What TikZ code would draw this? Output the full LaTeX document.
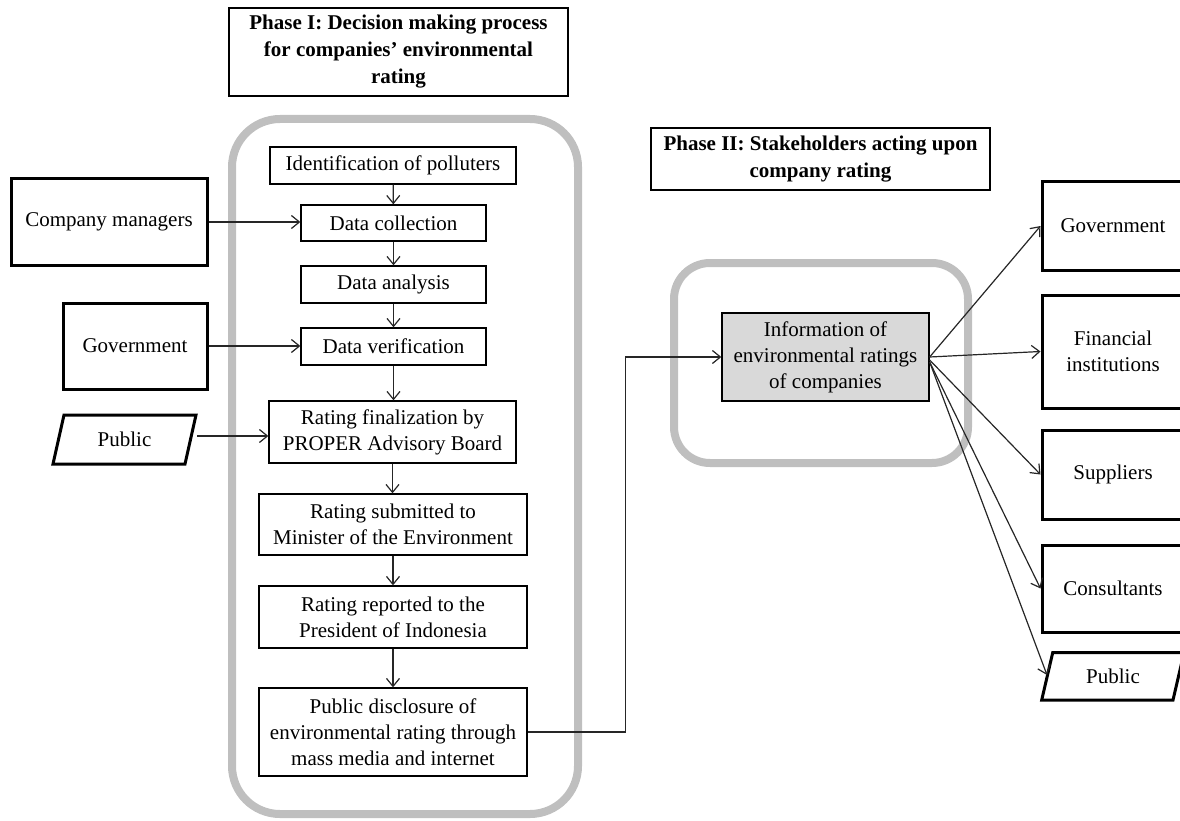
\documentclass[tikz,border=0pt]{standalone}
\usepackage{fontspec}
\setmainfont{Liberation Serif}
\usetikzlibrary{arrows.meta}
\begin{document}
\begin{tikzpicture}[x=1pt,y=-1pt,
  txt/.style={font=\fontsize{21}{26}\selectfont, align=center, inner sep=0pt},
  proc/.style={txt, draw=black, line width=1.3pt, rectangle},
  actor/.style={txt, draw=black, line width=3pt, rectangle},
  phase/.style={txt, draw=black, line width=1.3pt, font=\fontsize{21}{27}\selectfont\bfseries},
  group/.style={draw=gray!50, line width=8pt, rounded corners=48pt},
  para/.style={draw=black, line width=3pt, line join=miter},
  arr/.style={draw=black!85, line width=1.2pt, -{Straight Barb[length=8pt,width=13pt,line width=1.2pt]}},
]
\useasboundingbox (0,0) rectangle (1180,821);

% containers
\draw[group] (232,119) rectangle (578,814);
\draw[group, rounded corners=36pt] (674,263) rectangle (968,463);

% phase headers
\node[phase, minimum width=339pt, minimum height=88pt] (ph1) at (398.5,52) {Phase I: Decision making process\\for companies' environmental\\rating};
\node[phase, minimum width=339pt, minimum height=62pt] (ph2) at (820.5,159) {Phase II: Stakeholders acting upon\\company rating};

% phase I process
\node[proc, minimum width=246pt, minimum height=37pt] (id) at (393,165.5) {Identification of polluters};
\node[proc, minimum width=185pt, minimum height=36pt] (dc) at (393.5,223) {Data collection};
\node[proc, minimum width=185pt, minimum height=37pt] (da) at (393.5,284.5) {Data analysis};
\node[proc, minimum width=185pt, minimum height=37pt] (dv) at (393.5,346.5) {Data verification};
\node[proc, minimum width=247pt, minimum height=62pt] (rf) at (392.5,432) {Rating finalization by\\PROPER Advisory Board};
\node[proc, minimum width=268pt, minimum height=61pt] (rs) at (393,524.5) {Rating submitted to\\Minister of the Environment};
\node[proc, minimum width=268pt, minimum height=62pt] (rr) at (393,617) {Rating reported to the\\President of Indonesia};
\node[proc, minimum width=268pt, minimum height=88pt] (pd) at (393,732) {Public disclosure of\\environmental rating through\\mass media and internet};

% left actors
\node[actor, minimum width=196pt, minimum height=86pt] (cm) at (109,222) {Company managers};
\node[actor, minimum width=144pt, minimum height=86pt] (gL) at (135,346) {Government};
\draw[para] (64,415) -- (196,415) -- (185,464) -- (53,464) -- cycle;
\node[txt] (pL) at (124.5,439.5) {Public};
\coordinate (pLout) at (197,436);

% phase II
\node[proc, fill=gray!30, minimum width=207pt, minimum height=88pt] (info) at (825.5,357) {Information of\\environmental ratings\\of companies};

% right stakeholders
\node[actor, minimum width=142pt, minimum height=88pt] (gR) at (1113,226) {Government};
\node[actor, minimum width=142pt, minimum height=113pt] (fR) at (1113,351.5) {Financial\\institutions};
\node[actor, minimum width=142pt, minimum height=89pt] (sR) at (1113,474.5) {Suppliers};
\node[actor, minimum width=142pt, minimum height=87pt] (cR) at (1113,588.5) {Consultants};
\draw[para] (1052.7,652.7) -- (1184,652.7) -- (1173,700) -- (1041.7,700) -- cycle;
\node[txt] (pR) at (1113,676) {Public};
\coordinate (pRin) at (1047,675);

% flow arrows
\draw[arr] (id) -- (dc);
\draw[arr] (dc) -- (da);
\draw[arr] (da) -- (dv);
\draw[arr] (dv.south) -- (dv.south |- rf.north);
\draw[arr] (rf.south) -- (rf.south |- rs.north);
\draw[arr] (rs) -- (rr);
\draw[arr] (rr) -- (pd);

\draw[arr] (cm.east) -- (cm.east -| dc.west);
\draw[arr] (gL.east) -- (gL.east -| dv.west);
\draw[arr] (pLout) -- (pLout -| rf.west);

\draw[arr] (pd.east) -- ++(98,0) |- (info.west);

\draw[arr] (info.east) -- (gR.west);
\draw[arr] (info.east) -- (fR.west);
\draw[arr] ([yshift=-3pt]info.east) -- (sR.west);
\draw[arr] ([yshift=-5pt]info.east) -- (cR.west);
\draw[arr] ([yshift=-5pt]info.east) -- (pRin);
\end{tikzpicture}
\end{document}
